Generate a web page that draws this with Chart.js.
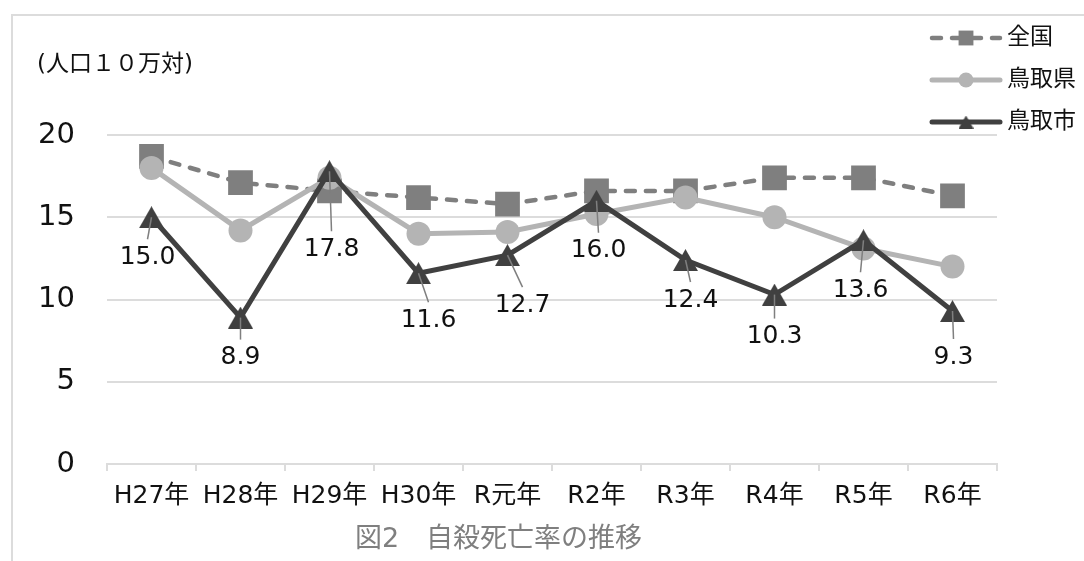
<!DOCTYPE html>
<html>
<head>
<meta charset="utf-8">
<script src="https://cdn.jsdelivr.net/npm/chart.js@4.4.0/dist/chart.umd.min.js"></script>
<style>
  body { margin: 0; background: #fff; }
  #wrap { position: relative; width: 1084px; height: 561px; }
</style>
</head>
<body>
<div id="wrap"><canvas id="suicide-rate-chart" width="1084" height="561"></canvas></div>
<script>
// 年度
const years = ['H27年', 'H28年', 'H29年', 'H30年', 'R元年', 'R2年', 'R3年', 'R4年', 'R5年', 'R6年'];
// 自殺死亡率（人口10万対）
const zenkoku = [18.7, 17.1, 16.6, 16.2, 15.8, 16.6, 16.6, 17.4, 17.4, 16.3];
const tottoriKen = [18.0, 14.2, 17.4, 14.0, 14.1, 15.2, 16.2, 15.0, 13.1, 12.0];
const tottoriShi = [15.0, 8.9, 17.8, 11.6, 12.7, 16.0, 12.4, 10.3, 13.6, 9.3];
const yTicks = [0, 5, 10, 15, 20];

// where the 鳥取市 value labels sit, relative to each point (dx, dy)
const labelOffsets = [[-4, 40], [0, 40], [2, 78], [10, 47], [15, 50], [2, 50], [5, 40], [0, 42], [-3, 50], [1, 46]];

const FONT = "'DejaVu Sans', 'Noto Sans CJK JP', sans-serif";
const GRID = '#dcdcdc';

// triangle centred on its box, like the original marker
function triangleImage(w, color) {
  const h = Math.round(w * Math.sqrt(3) / 2);
  const c = document.createElement('canvas');
  c.width = w;
  c.height = h;
  const g = c.getContext('2d');
  g.fillStyle = color;
  g.beginPath();
  g.moveTo(w / 2, 0);
  g.lineTo(w, h);
  g.lineTo(0, h);
  g.closePath();
  g.fill();
  return c;
}

const frame = {
  id: 'frame',
  beforeDraw(chart) {
    const ctx = chart.ctx;
    ctx.save();
    ctx.fillStyle = '#fff';
    ctx.fillRect(0, 0, chart.width, chart.height);
    ctx.strokeStyle = GRID;
    ctx.lineWidth = 2;
    ctx.beginPath();
    ctx.moveTo(12, chart.height);
    ctx.lineTo(12, 15);
    ctx.lineTo(chart.width, 15);
    ctx.stroke();
    // unit note
    ctx.fillStyle = '#111';
    ctx.font = '23px ' + FONT;
    ctx.textBaseline = 'middle';
    ctx.fillText('(人口１０万対)', 37, 65);
    ctx.restore();
  }
};

const valueLabels = {
  id: 'valueLabels',
  afterDatasetsDraw(chart) {
    const ctx = chart.ctx;
    const meta = chart.getDatasetMeta(2);
    ctx.save();
    ctx.font = '25px ' + FONT;
    ctx.textAlign = 'center';
    ctx.textBaseline = 'middle';
    meta.data.forEach((pt, i) => {
      const [dx, dy] = labelOffsets[i];
      ctx.strokeStyle = '#7f7f7f';
      ctx.lineWidth = 1.5;
      ctx.beginPath();
      ctx.moveTo(pt.x, pt.y);
      ctx.lineTo(pt.x + dx, pt.y + dy - 18);
      ctx.stroke();
      ctx.fillStyle = '#111';
      ctx.fillText(tottoriShi[i].toFixed(1), pt.x + dx, pt.y + dy);
    });
    ctx.restore();
  }
};

const sideLegend = {
  id: 'sideLegend',
  afterDraw(chart) {
    const ctx = chart.ctx;
    chart.data.datasets.forEach((ds, i) => {
      const y = 38 + i * 42;
      ctx.save();
      ctx.strokeStyle = ds.borderColor;
      ctx.lineWidth = ds.borderWidth;
      ctx.lineCap = 'round';
      ctx.setLineDash(ds.borderDash || []);
      ctx.beginPath();
      ctx.moveTo(932, y);
      ctx.lineTo(1000, y);
      ctx.stroke();
      ctx.setLineDash([]);
      ctx.fillStyle = ds.pointBackgroundColor;
      Chart.helpers.drawPoint(ctx, { pointStyle: ds.legendStyle, radius: ds.legendRadius, rotation: 0, borderWidth: 0 }, 966, y);
      ctx.fillStyle = '#111';
      ctx.font = '23px ' + FONT;
      ctx.textBaseline = 'middle';
      ctx.fillText(ds.label, 1007, y);
      ctx.restore();
    });
  }
};

const ctx = document.getElementById('suicide-rate-chart').getContext('2d');
const rateChart = new Chart(ctx, {
  type: 'line',
  data: {
    labels: years,
    datasets: [{
      label: '全国',
      data: zenkoku,
      borderColor: '#7f7f7f',
      borderWidth: 4.5,
      borderDash: [9, 11],
      borderCapStyle: 'round',
      pointStyle: 'rect',
      pointRadius: 17.5,
      pointBackgroundColor: '#7f7f7f',
      pointBorderWidth: 0,
      legendStyle: 'rect',
      legendRadius: 10.5,
      order: 3
    }, {
      label: '鳥取県',
      data: tottoriKen,
      borderColor: '#b4b4b4',
      borderWidth: 5,
      pointStyle: 'circle',
      pointRadius: 12,
      pointBackgroundColor: '#b4b4b4',
      pointBorderWidth: 0,
      legendStyle: 'circle',
      legendRadius: 7.5,
      order: 2
    }, {
      label: '鳥取市',
      data: tottoriShi,
      borderColor: '#404040',
      borderWidth: 5,
      pointStyle: triangleImage(25, '#404040'),
      pointBackgroundColor: '#404040',
      pointBorderWidth: 0,
      legendStyle: triangleImage(15, '#404040'),
      legendRadius: 8,
      order: 1
    }]
  },
  options: {
    responsive: false,
    animation: false,
    devicePixelRatio: 1,
    layout: { padding: { left: 0, right: 87, top: 135, bottom: 0 } },
    plugins: {
      legend: { display: false },
      tooltip: { enabled: false },
      title: {
        display: true,
        position: 'bottom',
        text: '図2　自殺死亡率の推移',
        color: '#7f7f7f',
        font: { family: FONT, size: 27, weight: 'normal' },
        padding: { top: 0, bottom: 5 }
      }
    },
    scales: {
      x: {
        offset: true,
        grid: { offset: true, drawOnChartArea: false, tickLength: 7, color: GRID, lineWidth: 2 },
        border: { color: GRID, width: 2 },
        ticks: { color: '#111', font: { family: FONT, size: 25 }, padding: 10, maxRotation: 0, autoSkip: false },
        afterFit(s) { s.height = 59.6; }
      },
      y: {
        min: 0,
        max: 20,
        afterBuildTicks(s) { s.ticks = yTicks.map(v => ({ value: v })); },
        grid: { color: GRID, lineWidth: 2, drawTicks: false },
        border: { display: false },
        ticks: { color: '#111', font: { family: FONT, size: 29 }, padding: 32 },
        afterFit(s) { s.width = 107; }
      }
    }
  },
  plugins: [frame, valueLabels, sideLegend]
});
</script>
</body>
</html>
